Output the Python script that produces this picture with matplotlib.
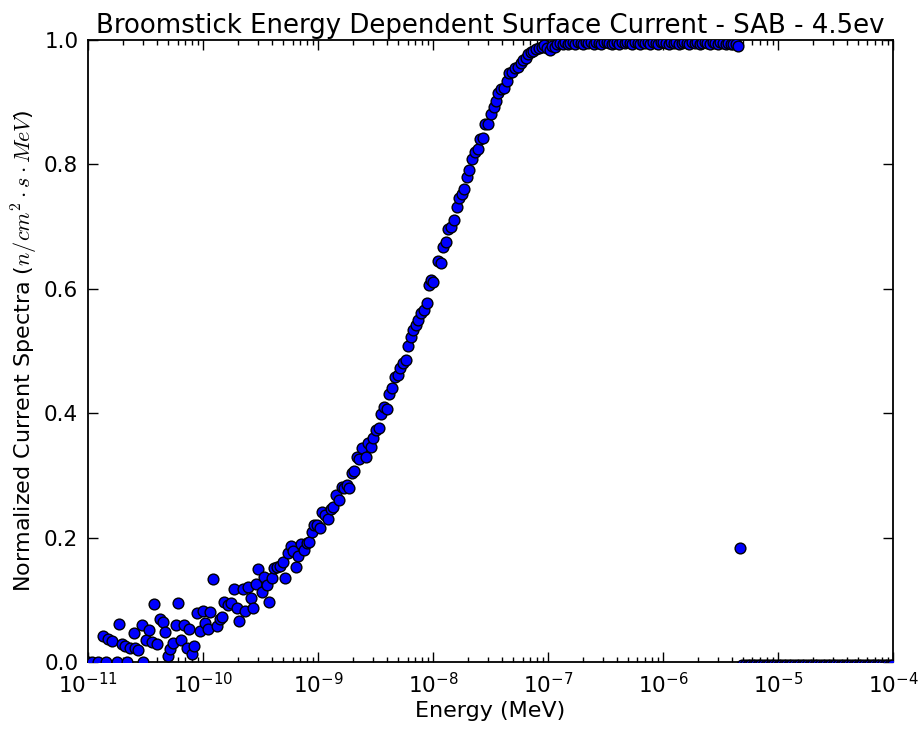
import numpy as np
import matplotlib
matplotlib.use("Agg")
import matplotlib.pyplot as plt

# log10(Energy / MeV) and normalized current
curve_log_energy = [
    -11.000, -10.965, -10.913, -10.870, -10.843, -10.826, -10.791, -10.748, -10.730, -10.704,
    -10.678, -10.661, -10.635, -10.600, -10.591, -10.565, -10.530, -10.522, -10.496, -10.470,
    -10.443, -10.426, -10.400, -10.374, -10.348, -10.330, -10.304, -10.287, -10.261, -10.235,
    -10.217, -10.191, -10.165, -10.139, -10.122, -10.096, -10.078, -10.052, -10.026, -10.000,
    -9.983, -9.957, -9.939, -9.913, -9.878, -9.852, -9.835, -9.817, -9.783, -9.757,
    -9.730, -9.704, -9.687, -9.652, -9.635, -9.609, -9.583, -9.565, -9.539, -9.522,
    -9.487, -9.470, -9.443, -9.426, -9.400, -9.383, -9.357, -9.330, -9.304, -9.287,
    -9.261, -9.235, -9.217, -9.191, -9.174, -9.148, -9.122, -9.096, -9.078, -9.052,
    -9.035, -9.009, -8.983, -8.965, -8.939, -8.913, -8.887, -8.870, -8.843, -8.817,
    -8.791, -8.774, -8.748, -8.730, -8.704, -8.687, -8.661, -8.643, -8.617, -8.583,
    -8.565, -8.539, -8.522, -8.496, -8.470, -8.452, -8.426, -8.400, -8.383, -8.357,
    -8.330, -8.304, -8.287, -8.261, -8.235, -8.217, -8.191, -8.174, -8.148, -8.130,
    -8.104, -8.078, -8.052, -8.035, -8.017, -8.000, -7.957, -7.930, -7.913, -7.887,
    -7.870, -7.843, -7.817, -7.791, -7.774, -7.748, -7.730, -7.704, -7.687, -7.661,
    -7.635, -7.609, -7.591, -7.565, -7.548, -7.522, -7.496, -7.470, -7.452, -7.435,
    -7.409, -7.383, -7.357, -7.339, -7.313, -7.287, -7.261, -7.235, -7.217, -7.191,
    -7.174, -7.148, -7.130, -7.104, -7.078, -7.052, -7.035, -7.009,
]
curve_values = [
    0.000, 0.000, 0.000, 0.042, 0.000, 0.037, 0.034, 0.000, 0.061, 0.029,
    0.026, 0.000, 0.023, 0.047, 0.022, 0.019, 0.060, 0.000, 0.035, 0.051,
    0.032, 0.093, 0.029, 0.069, 0.065, 0.048, 0.010, 0.021, 0.030, 0.060,
    0.095, 0.035, 0.059, 0.023, 0.053, 0.013, 0.026, 0.079, 0.050, 0.082,
    0.062, 0.053, 0.080, 0.134, 0.058, 0.069, 0.072, 0.097, 0.092, 0.094,
    0.117, 0.087, 0.066, 0.118, 0.082, 0.121, 0.103, 0.087, 0.125, 0.149,
    0.112, 0.137, 0.124, 0.097, 0.135, 0.151, 0.153, 0.154, 0.160, 0.135,
    0.175, 0.186, 0.178, 0.153, 0.170, 0.190, 0.180, 0.191, 0.193, 0.209,
    0.220, 0.220, 0.215, 0.241, 0.236, 0.230, 0.246, 0.249, 0.268, 0.260,
    0.281, 0.280, 0.285, 0.280, 0.304, 0.307, 0.330, 0.326, 0.344, 0.330,
    0.352, 0.346, 0.360, 0.373, 0.376, 0.399, 0.410, 0.407, 0.431, 0.440,
    0.458, 0.461, 0.473, 0.481, 0.485, 0.508, 0.523, 0.534, 0.542, 0.550,
    0.561, 0.566, 0.577, 0.606, 0.614, 0.611, 0.644, 0.642, 0.667, 0.675,
    0.696, 0.699, 0.711, 0.732, 0.746, 0.752, 0.760, 0.780, 0.791, 0.808,
    0.820, 0.825, 0.841, 0.842, 0.865, 0.865, 0.881, 0.893, 0.902, 0.915,
    0.921, 0.923, 0.934, 0.947, 0.949, 0.955, 0.957, 0.963, 0.968, 0.971,
    0.977, 0.981, 0.982, 0.986, 0.987, 0.989, 0.992, 0.987,
]

plateau_log_energy = [
    -6.986, -6.964, -6.941, -6.919, -6.896, -6.874, -6.851, -6.829, -6.806, -6.784,
    -6.761, -6.739, -6.716, -6.694, -6.671, -6.649, -6.626, -6.604, -6.581, -6.559,
    -6.536, -6.514, -6.491, -6.469, -6.446, -6.424, -6.401, -6.379, -6.356, -6.334,
    -6.311, -6.289, -6.266, -6.244, -6.221, -6.199, -6.176, -6.154, -6.131, -6.109,
    -6.086, -6.064, -6.041, -6.019, -5.996, -5.974, -5.951, -5.929, -5.906, -5.884,
    -5.861, -5.839, -5.816, -5.794, -5.771, -5.749, -5.726, -5.704, -5.681, -5.659,
    -5.636, -5.614, -5.591, -5.569, -5.546, -5.524, -5.501, -5.479, -5.456, -5.434,
    -5.411, -5.389, -5.366, -5.348, -5.330,
]
plateau_values = [
    0.984, 0.990, 0.988, 0.993, 0.995, 0.993, 0.996, 0.994, 0.995, 0.997,
    0.994, 0.996, 0.995, 0.993, 0.996, 0.995, 0.997, 0.994, 0.996, 0.995,
    0.994, 0.996, 0.997, 0.995, 0.993, 0.995, 0.996, 0.994, 0.996, 0.995,
    0.997, 0.995, 0.994, 0.996, 0.995, 0.993, 0.996, 0.995, 0.997, 0.994,
    0.996, 0.995, 0.994, 0.996, 0.997, 0.995, 0.994, 0.996, 0.995, 0.996,
    0.994, 0.995, 0.997, 0.995, 0.994, 0.996, 0.995, 0.996, 0.994, 0.995,
    0.996, 0.995, 0.994, 0.996, 0.995, 0.994, 0.996, 0.995, 0.994, 0.995,
    0.994, 0.993, 0.993, 0.990, 0.184,
]

tail_log_energy = [
    -5.310, -5.288, -5.265, -5.243, -5.220, -5.198, -5.175, -5.153, -5.130, -5.108,
    -5.085, -5.063, -5.040, -5.018, -4.995, -4.973, -4.950, -4.928, -4.905, -4.883,
    -4.860, -4.838, -4.815, -4.793, -4.770, -4.748, -4.725, -4.703, -4.680, -4.658,
    -4.635, -4.613, -4.590, -4.568, -4.545, -4.523, -4.500, -4.478, -4.455, -4.433,
    -4.410, -4.388, -4.365, -4.343, -4.320, -4.298, -4.275, -4.253, -4.230, -4.208,
    -4.185, -4.163, -4.140, -4.118, -4.095, -4.073, -4.050, -4.028, -4.005,
]
tail_value = -0.005
tail_values = [tail_value] * len(tail_log_energy)

log_energy = np.array(curve_log_energy + plateau_log_energy + tail_log_energy)
energy = 10.0 ** log_energy
current = np.array(curve_values + plateau_values + tail_values)

fig = plt.figure(figsize=(9.19, 7.30), dpi=100)
ax = fig.add_axes([0.0958, 0.0932, 0.8759, 0.852])
ax.scatter(energy, current, s=60, c="#0000ff", edgecolors="black", linewidths=1.0, zorder=3)
ax.set_xscale("log")
ax.set_xlim(1e-11, 1e-4)
ax.set_ylim(0.0, 1.0)
ax.set_yticks([0.0, 0.2, 0.4, 0.6, 0.8, 1.0])
ax.tick_params(which="both", direction="in", top=True, right=True, labelsize=15.5, pad=7)
ax.tick_params(which="major", length=7, width=1)
ax.tick_params(which="minor", length=3.5, width=1)
for sp in ax.spines.values():
    sp.set_linewidth(1.3)

ax.set_title("Broomstick Energy Dependent Surface Current - SAB - 4.5ev", fontsize=18.7, pad=5)
ax.set_xlabel("Energy (MeV)", fontsize=16, labelpad=3)
ax.set_ylabel(r"Normalized Current Spectra ($n/cm^2 \cdot s \cdot MeV$)", fontsize=16,
              math_fontfamily="cm", labelpad=3)

fig.savefig("out.png", dpi=100, facecolor="white")
